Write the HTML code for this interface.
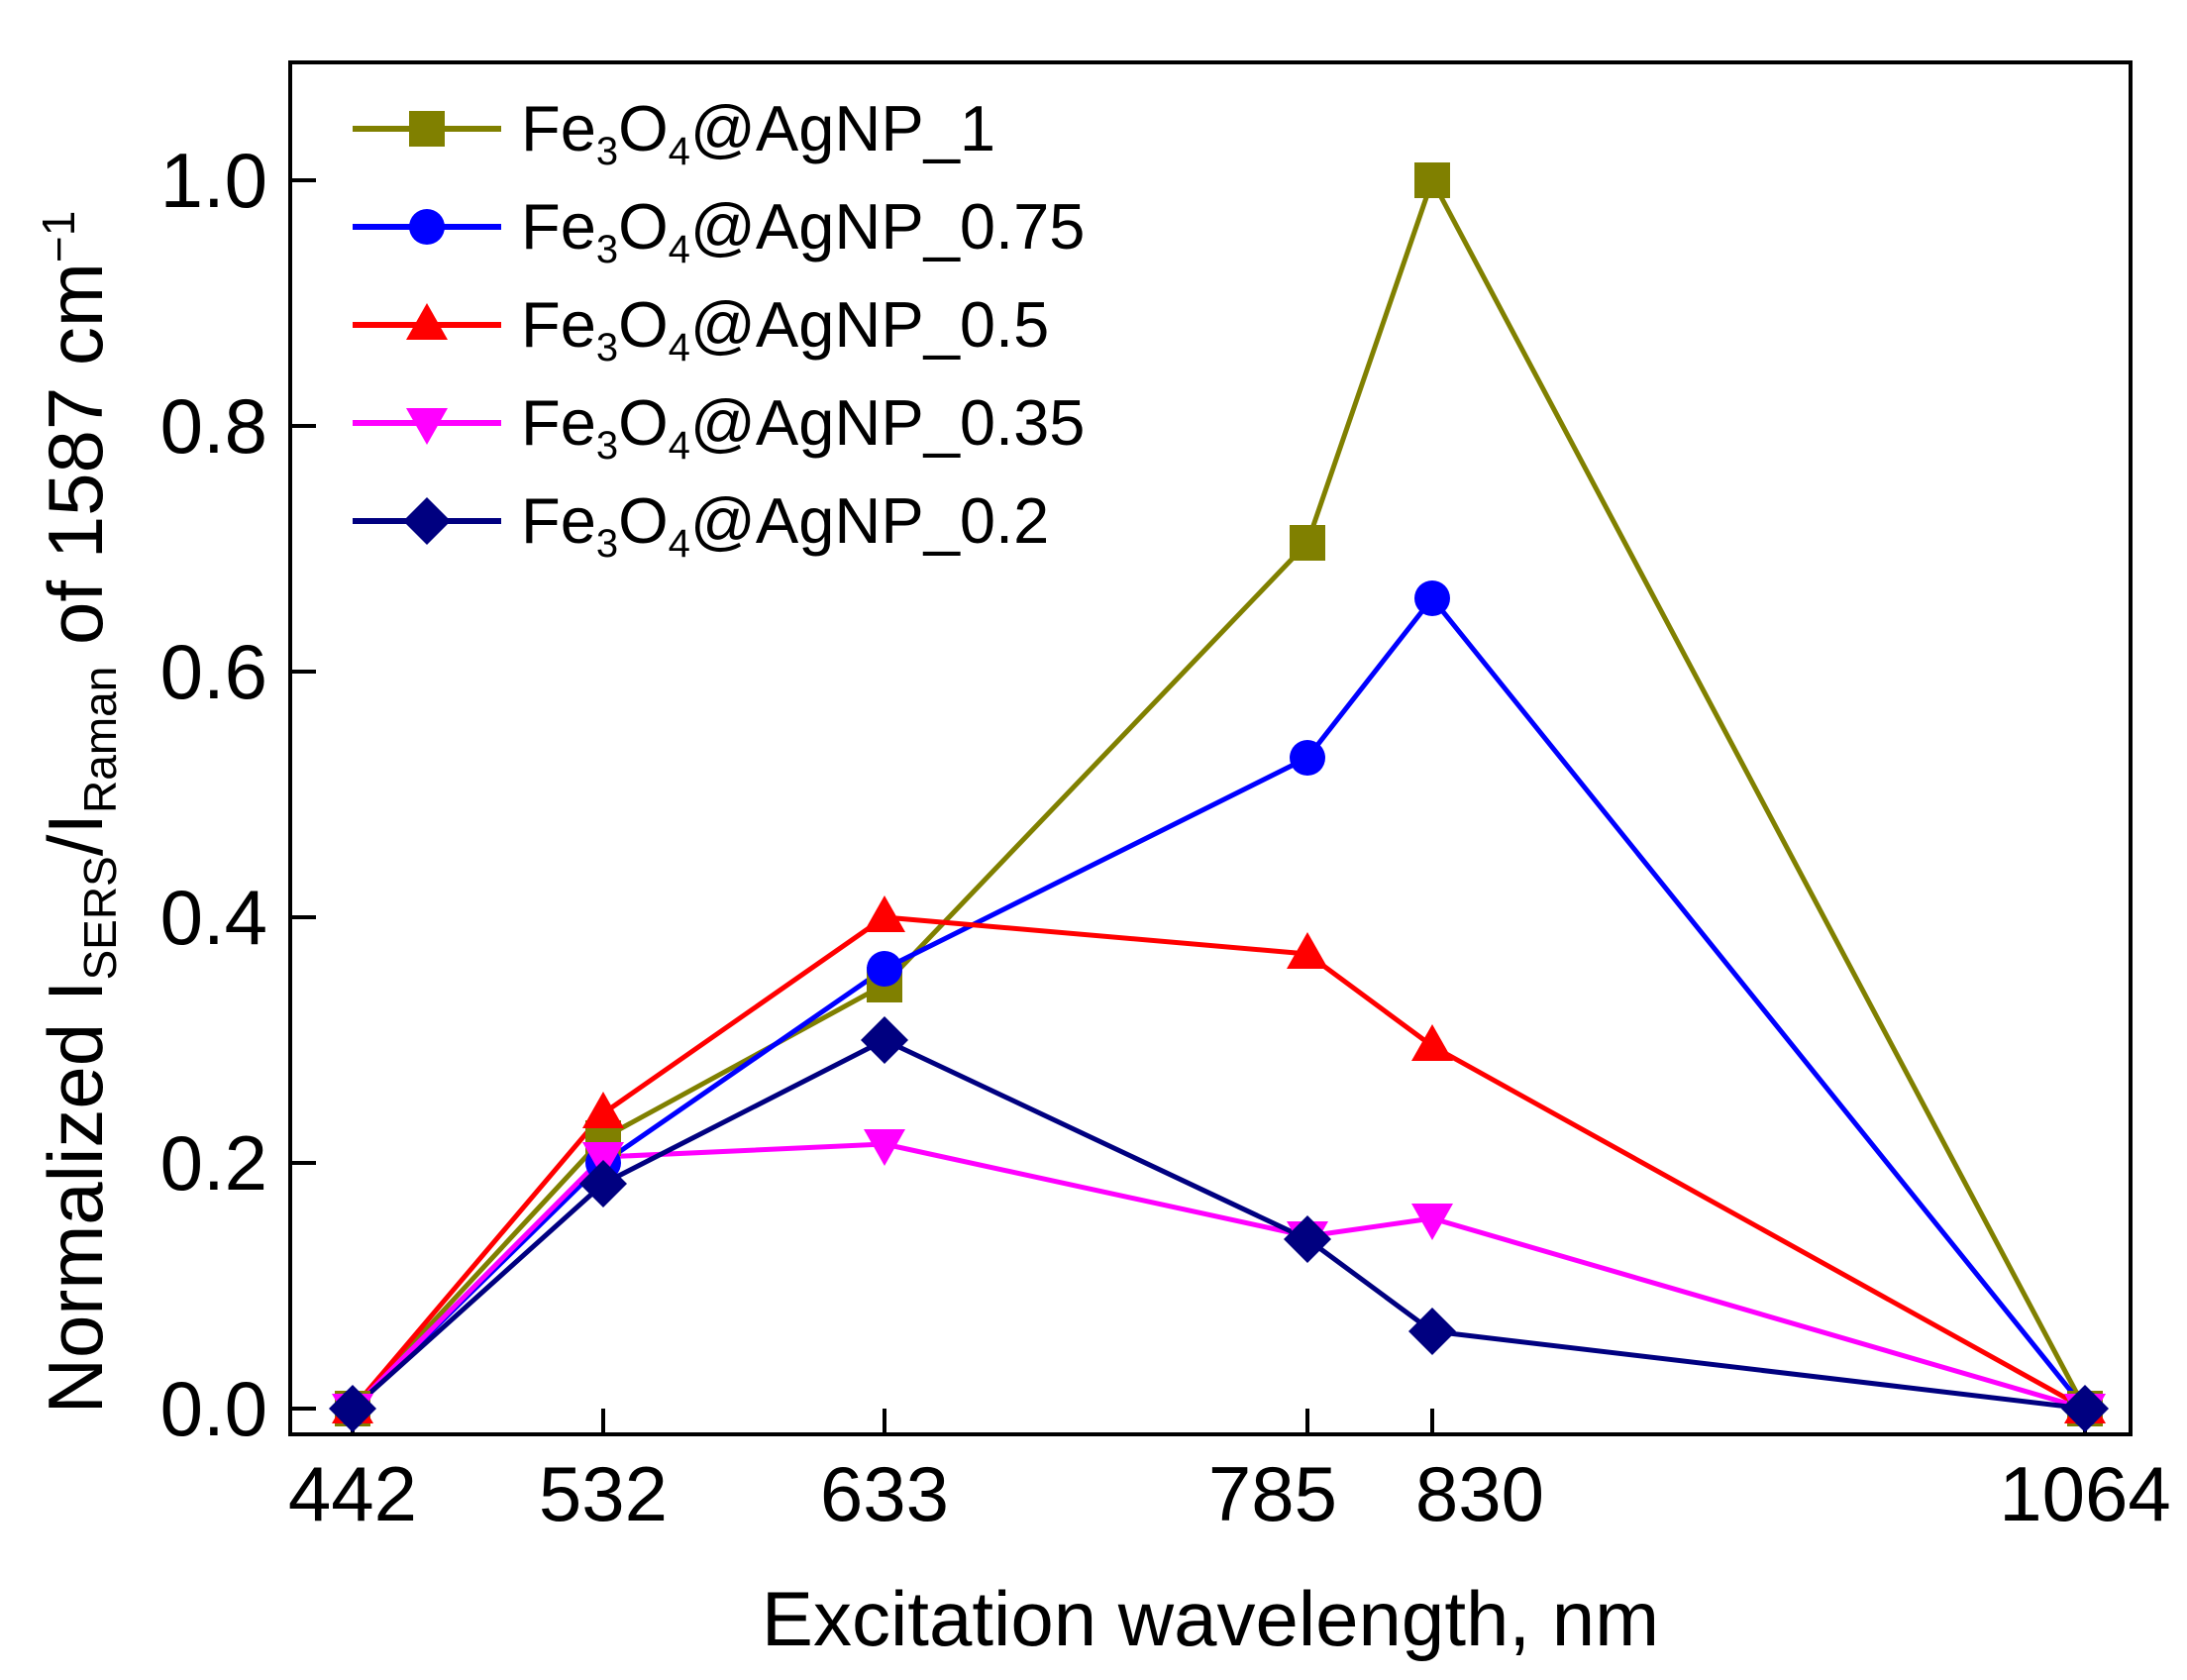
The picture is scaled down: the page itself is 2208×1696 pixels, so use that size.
<!DOCTYPE html>
<html><head><meta charset="utf-8"><style>
html,body{margin:0;padding:0;background:#fff;}
svg{display:block;font-family:"Liberation Sans",Arial,sans-serif;}
</style></head><body>
<svg width="2208" height="1696" viewBox="0 0 2208 1696" xmlns="http://www.w3.org/2000/svg">
<defs>
<rect id="sq" x="-18" y="-18" width="36" height="36"/>
<circle id="ci" r="18"/>
<polygon id="tu" points="0,-22 21,15 -21,15"/>
<polygon id="td" points="0,22 21,-15 -21,-15"/>
<polygon id="di" points="0,-24 24,0 0,24 -24,0"/>
</defs>
<rect x="293" y="63" width="1858" height="1385" fill="none" stroke="#000" stroke-width="4"/>
<g stroke="#000" stroke-width="4">
<line x1="356" y1="1448" x2="356" y2="1422"/>
<line x1="609" y1="1448" x2="609" y2="1422"/>
<line x1="893" y1="1448" x2="893" y2="1422"/>
<line x1="1320" y1="1448" x2="1320" y2="1422"/>
<line x1="1446" y1="1448" x2="1446" y2="1422"/>
<line x1="2105" y1="1448" x2="2105" y2="1422"/>
<line x1="293" y1="1422" x2="319" y2="1422"/>
<line x1="293" y1="1174" x2="319" y2="1174"/>
<line x1="293" y1="926" x2="319" y2="926"/>
<line x1="293" y1="678" x2="319" y2="678"/>
<line x1="293" y1="430" x2="319" y2="430"/>
<line x1="293" y1="182" x2="319" y2="182"/>
</g>
<g font-size="78" text-anchor="middle" fill="#000">
<text x="356" y="1535">442</text>
<text x="609" y="1535">532</text>
<text x="893" y="1535">633</text>
<text x="1285" y="1535">785</text>
<text x="1494" y="1535">830</text>
<text x="2105" y="1535">1064</text>
</g>
<g font-size="78" text-anchor="end" fill="#000">
<text x="270" y="1449">0.0</text>
<text x="270" y="1201">0.2</text>
<text x="270" y="953">0.4</text>
<text x="270" y="705">0.6</text>
<text x="270" y="457">0.8</text>
<text x="270" y="209">1.0</text>
</g>
<text x="1222" y="1661" font-size="78" text-anchor="middle">Excitation wavelength, nm</text>
<text transform="translate(103,820) rotate(-90)" font-size="78" text-anchor="middle">Normalized I<tspan font-size="46" dy="14">SERS</tspan><tspan dy="-14">/I</tspan><tspan font-size="46" dy="14">Raman</tspan><tspan dy="-14"> of 1587 cm</tspan><tspan font-size="46" dy="-28">−1</tspan></text>
<g fill="none" stroke-width="5" stroke-linejoin="round">
<polyline stroke="#808000" points="356,1422 609,1149 893,994 1320,548 1446,182 2105,1422"/>
<polyline stroke="#0000ff" points="356,1422 609,1174 893,978 1320,765 1446,604 2105,1422"/>
<polyline stroke="#ff0000" points="356,1422 609,1124 893,926 1320,963 1446,1056 2105,1422"/>
<polyline stroke="#ff00ff" points="356,1422 609,1168 893,1155 1320,1248 1446,1230 2105,1422"/>
<polyline stroke="#000080" points="356,1422 609,1195 893,1050 1320,1251 1446,1344 2105,1422"/>
</g>
<g fill="#808000"><use href="#sq" x="356" y="1422"/><use href="#sq" x="609" y="1149"/><use href="#sq" x="893" y="994"/><use href="#sq" x="1320" y="548"/><use href="#sq" x="1446" y="182"/><use href="#sq" x="2105" y="1422"/></g>
<g fill="#0000ff"><use href="#ci" x="356" y="1422"/><use href="#ci" x="609" y="1174"/><use href="#ci" x="893" y="978"/><use href="#ci" x="1320" y="765"/><use href="#ci" x="1446" y="604"/><use href="#ci" x="2105" y="1422"/></g>
<g fill="#ff0000"><use href="#tu" x="356" y="1422"/><use href="#tu" x="609" y="1124"/><use href="#tu" x="893" y="926"/><use href="#tu" x="1320" y="963"/><use href="#tu" x="1446" y="1056"/><use href="#tu" x="2105" y="1422"/></g>
<g fill="#ff00ff"><use href="#td" x="356" y="1422"/><use href="#td" x="609" y="1168"/><use href="#td" x="893" y="1155"/><use href="#td" x="1320" y="1248"/><use href="#td" x="1446" y="1230"/><use href="#td" x="2105" y="1422"/></g>
<g fill="#000080"><use href="#di" x="356" y="1422"/><use href="#di" x="609" y="1195"/><use href="#di" x="893" y="1050"/><use href="#di" x="1320" y="1251"/><use href="#di" x="1446" y="1344"/><use href="#di" x="2105" y="1422"/></g>
<g stroke-width="6">
<line x1="356" y1="130" x2="506" y2="130" stroke="#808000"/>
<line x1="356" y1="229" x2="506" y2="229" stroke="#0000ff"/>
<line x1="356" y1="328" x2="506" y2="328" stroke="#ff0000"/>
<line x1="356" y1="427" x2="506" y2="427" stroke="#ff00ff"/>
<line x1="356" y1="526" x2="506" y2="526" stroke="#000080"/>
</g>
<use href="#sq" x="431" y="130" fill="#808000"/>
<use href="#ci" x="431" y="229" fill="#0000ff"/>
<use href="#tu" x="431" y="328" fill="#ff0000"/>
<use href="#td" x="431" y="427" fill="#ff00ff"/>
<use href="#di" x="431" y="526" fill="#000080"/>
<g font-size="65" fill="#000">
<text x="526" y="152">Fe<tspan font-size="40" dy="14">3</tspan><tspan dy="-14">O</tspan><tspan font-size="40" dy="14">4</tspan><tspan dy="-14">@AgNP_1</tspan></text>
<text x="526" y="251">Fe<tspan font-size="40" dy="14">3</tspan><tspan dy="-14">O</tspan><tspan font-size="40" dy="14">4</tspan><tspan dy="-14">@AgNP_0.75</tspan></text>
<text x="526" y="350">Fe<tspan font-size="40" dy="14">3</tspan><tspan dy="-14">O</tspan><tspan font-size="40" dy="14">4</tspan><tspan dy="-14">@AgNP_0.5</tspan></text>
<text x="526" y="449">Fe<tspan font-size="40" dy="14">3</tspan><tspan dy="-14">O</tspan><tspan font-size="40" dy="14">4</tspan><tspan dy="-14">@AgNP_0.35</tspan></text>
<text x="526" y="548">Fe<tspan font-size="40" dy="14">3</tspan><tspan dy="-14">O</tspan><tspan font-size="40" dy="14">4</tspan><tspan dy="-14">@AgNP_0.2</tspan></text>
</g>
</svg>
</body></html>
